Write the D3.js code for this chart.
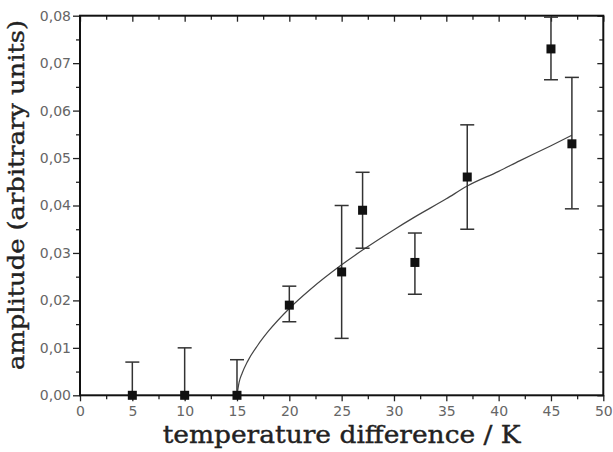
<!DOCTYPE html>
<html>
<head>
<meta charset="utf-8">
<script src="https://cdn.jsdelivr.net/npm/d3@7"></script>
<style>
  body { margin: 0; background: #fff; }
  svg { display: block; }
</style>
</head>
<body>
<div id="canvas"></div>
<script>
"use strict"

// measured points
let temps = [5, 10, 15, 20, 25, 27, 32, 37, 45, 47];
let amps = [0, 0, 0, 0.019, 0.026, 0.039, 0.028, 0.046, 0.073, 0.053];
let errLow = [0, 0, 0, 0.0155, 0.012, 0.031, 0.0213, 0.035, 0.0665, 0.0393];
let errHigh = [0.007, 0.010, 0.0075, 0.023, 0.040, 0.047, 0.0342, 0.057, 0.0797, 0.067];

// fitted curve
let fitX = [15, 15.2, 15.5, 16, 17, 18, 20, 22, 25, 27, 30, 32, 35, 37, 40, 42, 45, 47];
let fitY = [0, 0.0027, 0.0047, 0.0071, 0.0106, 0.0135, 0.0183, 0.0223, 0.0275, 0.0306,
    0.0349, 0.0376, 0.0414, 0.0441, 0.0472, 0.0494, 0.0526, 0.0548];

let xTicks = [0, 5, 10, 15, 20, 25, 30, 35, 40, 45, 50];
let yTicks = [0, 0.01, 0.02, 0.03, 0.04, 0.05, 0.06, 0.07, 0.08];

let width = 613, height = 452;
let plotLeft = 80, plotRight = 603.3, plotTop = 15.7, plotBottom = 395.3;

let drawing = d3.select("#canvas")
    .append("svg")
    .attr("width", width)
    .attr("height", height);

let x = d3.scaleLinear().domain([0, 50]).range([plotLeft, plotRight]);
let y = d3.scaleLinear().domain([0, 0.08]).range([plotBottom, plotTop]);

let fmt = d => d3.format(".2f")(d).replace(".", ",");
let minorX = d3.range(2.5, 50, 5);
let minorY = d3.range(0.005, 0.08, 0.01);

/* bottom axis, ticks outward */
drawing.append("g")
    .attr("transform", "translate(0," + plotBottom + ")")
    .call(d3.axisBottom(x).tickValues(xTicks).tickFormat(d3.format("d")).tickSize(6).tickPadding(5));
drawing.append("g")
    .attr("transform", "translate(0," + plotBottom + ")")
    .call(d3.axisBottom(x).tickValues(minorX).tickFormat("").tickSize(4));

/* left axis, ticks outward */
drawing.append("g")
    .attr("transform", "translate(" + plotLeft + ",0)")
    .call(d3.axisLeft(y).tickValues(yTicks).tickFormat(fmt).tickSize(7).tickPadding(2));
drawing.append("g")
    .attr("transform", "translate(" + plotLeft + ",0)")
    .call(d3.axisLeft(y).tickValues(minorY).tickFormat("").tickSize(4));

/* top and right axes, ticks inward */
drawing.append("g")
    .attr("transform", "translate(0," + plotTop + ")")
    .call(d3.axisBottom(x).tickValues(xTicks).tickFormat("").tickSize(6));
drawing.append("g")
    .attr("transform", "translate(0," + plotTop + ")")
    .call(d3.axisBottom(x).tickValues(minorX).tickFormat("").tickSize(4));
drawing.append("g")
    .attr("transform", "translate(" + plotRight + ",0)")
    .call(d3.axisLeft(y).tickValues(yTicks).tickFormat("").tickSize(6));
drawing.append("g")
    .attr("transform", "translate(" + plotRight + ",0)")
    .call(d3.axisLeft(y).tickValues(minorY).tickFormat("").tickSize(4));

drawing.selectAll(".domain").remove();
drawing.selectAll(".tick line").attr("stroke", "#222").attr("stroke-width", 1.3);
drawing.selectAll(".tick text")
    .attr("font-family", "DejaVu Sans, sans-serif")
    .attr("font-size", 14)
    .attr("fill", "#666");

/* frame */
drawing.append("rect")
    .attr("x", plotLeft)
    .attr("y", plotTop)
    .attr("width", plotRight - plotLeft)
    .attr("height", plotBottom - plotTop)
    .attr("fill", "none")
    .attr("stroke", "#111")
    .attr("stroke-width", 2);

/* fit curve */
let fitData = fitX.map((d, i) => [d, fitY[i]]);
drawing.append("path")
    .datum(fitData)
    .attr("d", d3.line().x(d => x(d[0])).y(d => y(d[1])).curve(d3.curveMonotoneX))
    .attr("fill", "none")
    .attr("stroke", "#444")
    .attr("stroke-width", 1.2);

/* error bars */
let bars = drawing.append("g").attr("stroke", "#333").attr("stroke-width", 1.5);
temps.forEach((t, i) => {
    bars.append("line")
        .attr("x1", x(t)).attr("x2", x(t))
        .attr("y1", y(errLow[i])).attr("y2", y(errHigh[i]));
    bars.append("line")
        .attr("x1", x(t) - 7).attr("x2", x(t) + 7)
        .attr("y1", y(errHigh[i])).attr("y2", y(errHigh[i]));
    if (errLow[i] > 0) {
        bars.append("line")
            .attr("x1", x(t) - 7).attr("x2", x(t) + 7)
            .attr("y1", y(errLow[i])).attr("y2", y(errLow[i]));
    }
});

/* markers */
drawing.selectAll(".pt")
    .data(temps)
    .enter()
    .append("rect")
    .attr("class", "pt")
    .attr("x", (d) => x(d) - 4.5)
    .attr("y", (d, i) => y(amps[i]) - 4.5)
    .attr("width", 9)
    .attr("height", 9)
    .attr("fill", "#111");

/* axis titles */
drawing.append("text")
    .attr("x", (plotLeft + plotRight) / 2)
    .attr("y", 443)
    .attr("text-anchor", "middle")
    .attr("font-family", "DejaVu Serif, serif")
    .attr("font-size", 24)
    .attr("fill", "#222")
    .attr("stroke", "#222")
    .attr("stroke-width", 0.4)
    .attr("textLength", 358)
    .attr("lengthAdjust", "spacingAndGlyphs")
    .text("temperature difference / K");

drawing.append("text")
    .attr("transform", "translate(24,195) rotate(-90)")
    .attr("text-anchor", "middle")
    .attr("font-family", "DejaVu Serif, serif")
    .attr("font-size", 23)
    .attr("fill", "#222")
    .attr("stroke", "#222")
    .attr("stroke-width", 0.4)
    .attr("textLength", 350)
    .attr("lengthAdjust", "spacingAndGlyphs")
    .text("amplitude (arbitrary units)");
</script>
</body>
</html>
